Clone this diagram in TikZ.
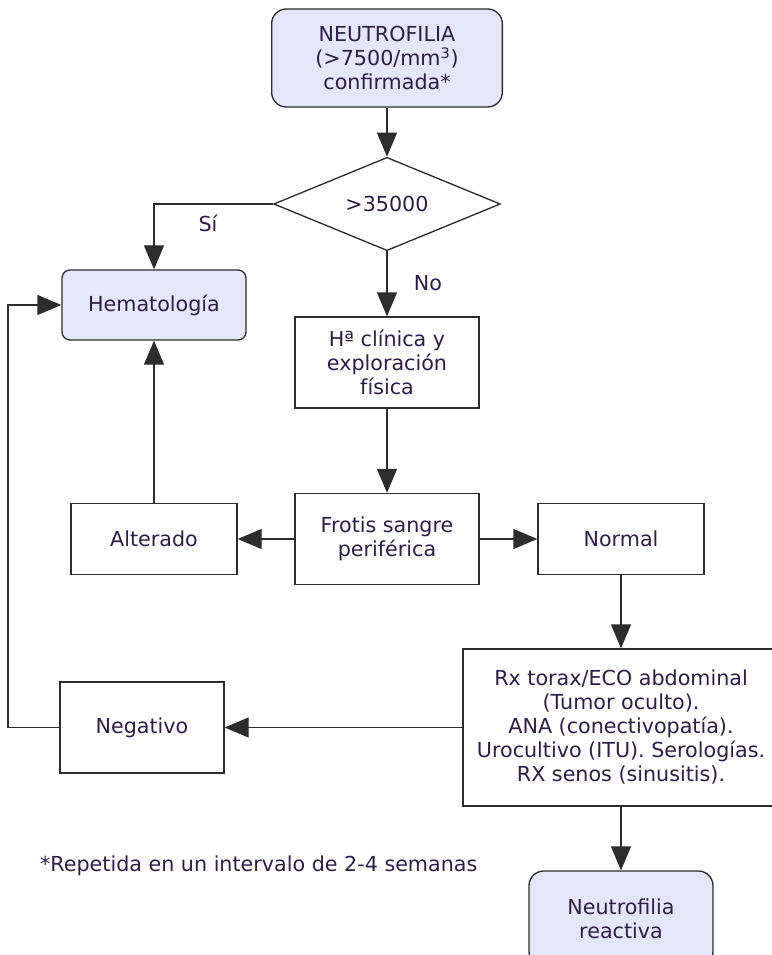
\documentclass[tikz,border=0pt]{standalone}
\usepackage{fontspec}
\setmainfont{DejaVu Sans}
\usetikzlibrary{arrows.meta,shapes.geometric}

\definecolor{lila}{RGB}{230,230,250}
\definecolor{tinta}{RGB}{45,30,70}
\definecolor{trazo}{RGB}{45,45,45}

\begin{document}
\begin{tikzpicture}[x=0.75pt, y=-0.75pt,
    every node/.style={font=\fontsize{15.5pt}{18pt}\selectfont, text=tinta, align=center},
    caja/.style={draw=trazo, line width=1pt, fill=white, inner sep=2pt},
    terminal/.style={caja, fill=lila, rounded corners=11pt},
    flecha/.style={draw=trazo, line width=1pt, -{Triangle[length=18pt, width=15pt]}}]

% Page frame (the last boxes run off the right and bottom edges)
\useasboundingbox (0,0) rectangle (771,955);

% Start and decision
\node[terminal, minimum width=173pt, minimum height=73.5pt] (inicio) at (387,58)
    {NEUTROFILIA\\(>7500/mm\textsuperscript{3})\\confirmada*};
\node[diamond, draw=trazo, line width=1pt, aspect=2.4, inner sep=0pt,
      minimum width=170pt, minimum height=70pt] (corte) at (387,204) {>35000};

% Left column
\node[terminal, rounded corners=6pt, minimum width=138pt, minimum height=52.5pt] (hemato) at (154,305) {Hematología};
\node[caja, minimum width=124.5pt, minimum height=53.25pt] (alterado) at (154,539) {Alterado};
\node[caja, minimum width=123pt, minimum height=68.25pt] (negativo) at (142,727.5) {Negativo};

% Middle column
\node[caja, minimum width=138pt, minimum height=68.25pt] (historia) at (387,362.5)
    {Hª clínica y\\exploración\\física};
\node[caja, minimum width=138pt, minimum height=68.25pt] (frotis) at (387,539)
    {Frotis sangre\\periférica};

% Right column
\node[caja, minimum width=124.5pt, minimum height=53.25pt] (normal) at (621,539) {Normal};
\node[caja, minimum width=237pt, minimum height=117.75pt] (pruebas) at (621,727.5)
    {Rx torax/ECO abdominal\\(Tumor oculto).\\ANA (conectivopatía).\\Urocultivo (ITU). Serologías.\\RX senos (sinusitis).};
\node[terminal, minimum width=138pt, minimum height=71.25pt] (reactiva) at (621,918.5)
    {Neutrofilia\\reactiva};

% Connectors
\draw[flecha] (inicio) -- (corte);
\draw[flecha] (corte.west) -| (hemato.north);
\draw[flecha] (corte.south) -- (historia.north);
\draw[flecha] (historia) -- (frotis);
\draw[flecha] (frotis) -- (alterado);
\draw[flecha] (frotis) -- (normal);
\draw[flecha] (alterado) -- (hemato);
\draw[flecha] (normal) -- (pruebas);
\draw[flecha] (pruebas) -- (negativo);
\draw[flecha] (pruebas) -- (reactiva);

% Loop back to Hematologia
\coordinate (retorno) at (8,0);
\draw[flecha] (negativo.west) -- (retorno |- negativo.west) |- (hemato.west);

% Branch labels and footnote
\node (si) at (208,223) {Sí};
\node (no) at (428,283) {No};
\node[anchor=east] (nota) at (482,866) {*Repetida en un intervalo de 2-4 semanas};

\end{tikzpicture}
\end{document}
